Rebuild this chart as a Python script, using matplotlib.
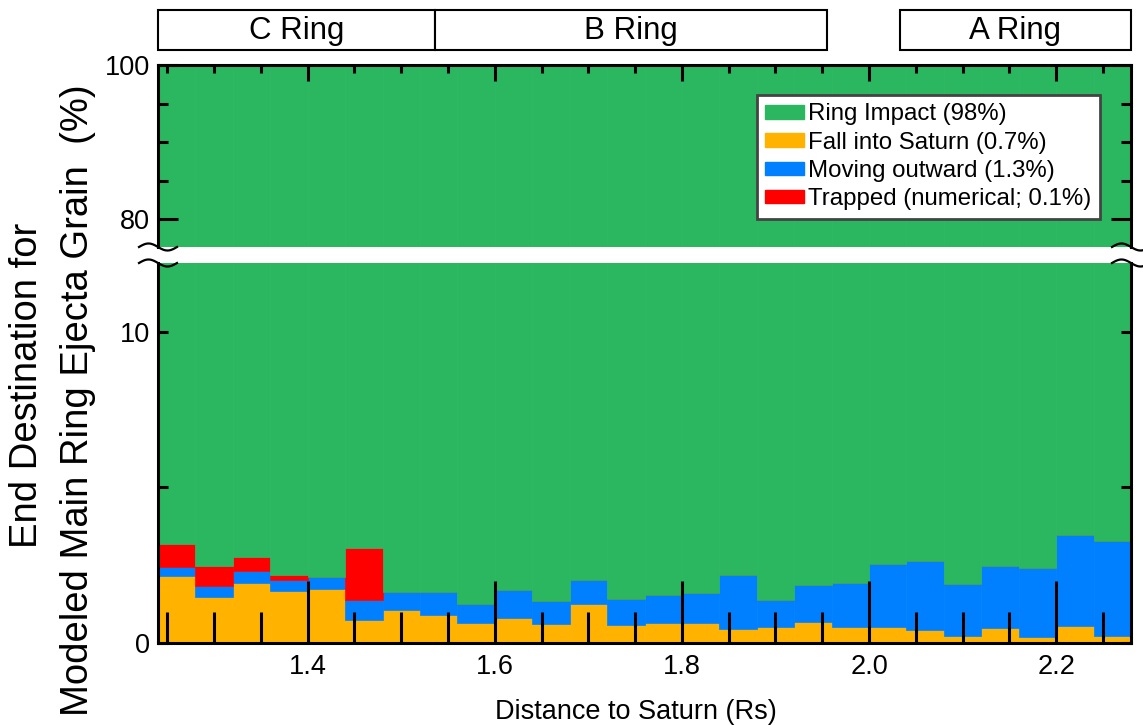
import numpy as np
import matplotlib.pyplot as plt
from matplotlib.patches import Patch, Rectangle
from matplotlib.ticker import MultipleLocator

plt.rcParams["font.family"] = ["Liberation Sans", "DejaVu Sans"]

# ---------- data (percent of grains per radial bin) ----------
bin_edges = [1.24, 1.28, 1.32, 1.36, 1.40, 1.44, 1.48, 1.52, 1.56, 1.60,
             1.64, 1.68, 1.72, 1.76, 1.80, 1.84, 1.88, 1.92, 1.96, 2.00,
             2.04, 2.08, 2.12, 2.16, 2.20, 2.24, 2.28]
fall = [2.15, 1.47, 1.92, 1.67, 1.73, 0.74, 1.06, 0.90, 0.64, 0.80,
        0.61, 1.25, 0.58, 0.64, 0.64, 0.45, 0.51, 0.67, 0.51, 0.51,
        0.42, 0.22, 0.48, 0.19, 0.54, 0.22]
outward = [0.29, 0.36, 0.39, 0.35, 0.39, 0.64, 0.57, 0.73, 0.61, 0.90,
           0.74, 0.77, 0.83, 0.90, 0.96, 1.73, 0.87, 1.19, 1.41, 2.02,
           2.21, 1.67, 1.99, 2.21, 2.92, 3.05]
trapped = [0.73, 0.64, 0.45, 0.16, 0.00, 1.66, 0.00, 0.00, 0.00, 0.00,
           0.00, 0.00, 0.00, 0.00, 0.00, 0.00, 0.00, 0.00, 0.00, 0.00,
           0.00, 0.00, 0.00, 0.00, 0.00, 0.00]
impact = list(100 - np.array(fall) - np.array(outward) - np.array(trapped))

labels = ["Ring Impact (98%)", "Fall into Saturn (0.7%)",
          "Moving outward (1.3%)", "Trapped (numerical; 0.1%)"]
colors = {"impact": "#2bb660", "fall": "#ffb300",
          "outward": "#0080ff", "trapped": "#ff0000"}

rings = ["C Ring", "B Ring", "A Ring"]
ring_start = [1.24, 1.536, 2.033]
ring_end = [1.536, 1.955, 2.28]

# ---------- layout ----------
fig = plt.figure(figsize=(11.43, 7.25), dpi=100)
L, W = 158 / 1143, 973 / 1143
ax_lo = fig.add_axes([L, (725 - 643) / 725, W, 380 / 725])
ax_hi = fig.add_axes([L, (725 - 247) / 725, W, 182 / 725])
ax_ring = fig.add_axes([L, (725 - 50) / 725, W, 40 / 725])

left = np.array(bin_edges[:-1])
width = np.diff(bin_edges)

for ax in (ax_lo, ax_hi):
    base = np.zeros(len(left))
    for vals, key in [(fall, "fall"), (outward, "outward"),
                      (trapped, "trapped"), (impact, "impact")]:
        ax.bar(left, vals, width=width, bottom=base, align="edge",
               color=colors[key], edgecolor=colors[key], linewidth=0.5)
        base = base + np.array(vals)
    ax.set_xlim(bin_edges[0], bin_edges[-1])
    ax.xaxis.set_major_locator(MultipleLocator(0.2))
    ax.xaxis.set_minor_locator(MultipleLocator(0.05))
    ax.yaxis.set_minor_locator(MultipleLocator(5))
    for s in ax.spines.values():
        s.set_linewidth(2.2)

# lower panel
ax_lo.set_ylim(0, 12.2)
ax_lo.set_yticks([0, 10])
ax_lo.spines["top"].set_visible(False)
ax_lo.xaxis.set_major_formatter(plt.FuncFormatter(lambda v, p: f"{v:.1f}"))
ax_lo.tick_params(axis="x", which="major", direction="in", length=44.6,
                  width=2.2, top=False, labelsize=19.5, pad=8)
ax_lo.tick_params(axis="x", which="minor", direction="in", length=22.3,
                  width=2.2, top=False)
ax_lo.tick_params(axis="y", which="both", direction="in", length=7.2,
                  width=2.2, right=True, labelsize=19.5, pad=6)

# upper panel
ax_hi.set_ylim(76.4, 100)
ax_hi.set_yticks([80, 100])
ax_hi.spines["bottom"].set_visible(False)
ax_hi.tick_params(axis="x", which="major", direction="in", length=11.5,
                  width=2.2, bottom=False, top=True, labelbottom=False)
ax_hi.tick_params(axis="x", which="minor", direction="in", length=5.8,
                  width=2.2, bottom=False, top=True)
ax_hi.tick_params(axis="y", which="major", direction="in", length=14.4,
                  width=2.2, right=True, labelsize=19.5, pad=6)
ax_hi.tick_params(axis="y", which="minor", direction="in", length=7.2,
                  width=2.2, right=True)

# break marks
t = np.linspace(-1.0, 1.0, 60)
for ax, y0, h in [(ax_hi, 0.0, 182), (ax_lo, 1.0, 380)]:
    for x0 in (0.0, 1.0):
        ax.plot(x0 + t * 19 / 973, y0 - 3.5 / h * np.sin(np.pi * t),
                transform=ax.transAxes, color="black", lw=1.6,
                clip_on=False, zorder=10)

# legend
handles = [Patch(color=colors[k]) for k in ["impact", "fall", "outward", "trapped"]]
leg = ax_hi.legend(handles, labels, loc="upper right",
                   bbox_to_anchor=((1100 - 158) / 973, (247 - 95) / 182),
                   borderaxespad=0, fontsize=17.3, frameon=True, fancybox=False,
                   framealpha=1, edgecolor="#444444", handlelength=1.6,
                   handleheight=0.5, handletextpad=0.2, labelspacing=0.26,
                   borderpad=0.35)
leg.get_frame().set_linewidth(2)

# ring bars on top
ax_ring.set_xlim(bin_edges[0], bin_edges[-1])
ax_ring.set_ylim(0, 1)
ax_ring.axis("off")
for name, s, e in zip(rings, ring_start, ring_end):
    ax_ring.add_patch(Rectangle((s, 0), e - s, 1, facecolor="white",
                                edgecolor="black", lw=1.5, clip_on=False))
    ax_ring.text((s + e) / 2, 0.48, name, ha="center", va="center", fontsize=22.5)

# axis titles
fig.text(636 / 1143, 1 - 712 / 725, "Distance to Saturn (Rs)",
         ha="center", va="center", fontsize=19.5)
fig.text(27 / 1143, 1 - 385 / 725, "End Destination for",
         rotation=90, ha="center", va="center", fontsize=27.5)
fig.text(78 / 1143, 1 - 400 / 725, "Modeled Main Ring Ejecta Grain  (%)",
         rotation=90, ha="center", va="center", fontsize=27.5)

fig.savefig("out.png", dpi=100)
